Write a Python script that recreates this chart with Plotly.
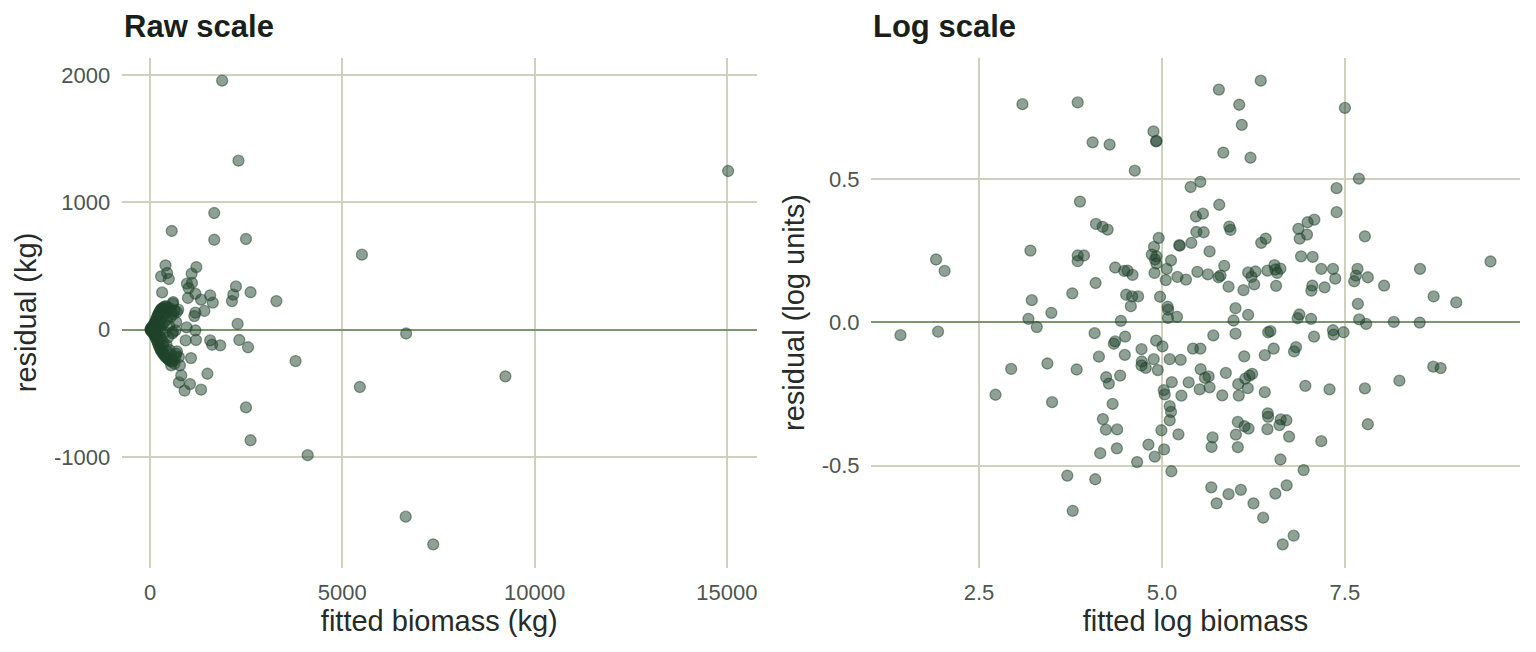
import plotly.graph_objects as go

# ---------------- data: raw scale (kg) ----------------
raw_fitted_outer = [1876, 2300, 15033, 1670, 564, 1670, 2495, 5510, 3286, 2614, 2278, 6660,
                    2321, 2549, 3785, 9241, 5456, 2495, 2614, 4100, 6649, 7365]
raw_resid_outer = [1955, 1327, 1246, 916, 775, 706, 712, 589, 225, 294, 45, -30,
                   -81, -138, -246, -366, -450, -610, -868, -985, -1468, -1685]

raw_fitted_mid = [402, 445, 288, 489, 1205, 1083, 960, 1091, 1004, 314, 1179, 986, 1327, 1563,
                  1632, 1414, 1179, 1152, 602, 733, 698, 2235, 2165, 2130, 952, 1179, 925, 1196,
                  1563, 1615, 1825, 1065, 1493, 1039, 1327, 899, 751, 812, 777, 751, 550, 489,
                  637, 681, 419, 332, 594, 663, 594]
raw_resid_mid = [505, 445, 419, 398, 492, 440, 361, 367, 327, 293, 283, 249, 236, 270,
                 212, 147, 134, 107, 217, 157, 139, 340, 275, 225, 18, -5, -84, -81,
                 -84, -118, -123, -223, -346, -427, -471, -479, -414, -359, -280, -215, -280, -236,
                 -267, -189, -162, -123, -18, -5, 204]

raw_fitted_core = [12, 18, 25, 30, 35, 40, 45, 50, 55, 60, 65, 70, 75, 80, 85, 90, 95, 100, 105,
                   110, 115, 120, 125, 130, 135, 140, 145, 150, 155, 160, 165, 170, 175, 180, 185,
                   190, 195, 200, 205, 210, 215, 220, 225, 230, 235, 240, 245, 250, 255, 260, 265,
                   270, 275, 280, 285, 290, 295, 300, 310, 315, 320, 330, 335, 340, 350, 355, 360,
                   370, 380, 385, 390, 400, 410, 420, 430, 440, 450, 460, 470, 480, 490, 500, 510,
                   520, 530, 540, 550, 560, 570, 580, 600, 620, 640, 660, 680, 700]
raw_resid_core = [3, -5, 8, -2, 12, -10, 5, 18, -15, 0, 22, -20, 10, -8, 30, -25, 15, 40, -35,
                  5, 50, -45, 20, -12, 60, -55, 28, 70, -65, 0, 85, -75, 35, -30, 95,
                  -90, 45, 110, -100, 15, 120, -115, 60, -50, 130, -130, 25, 140, -140, 75, -60,
                  150, -155, 5, 160, -165, 90, -80, 165, -175, 40, 170, -185, 110, -100, 175, -195,
                  60, 180, -205, -20, 130, -215, 185, -120, 80, -225, 175, -60, 150, -235, 30, -160,
                  165, -245, 100, -200, 140, -250, -30, 120, -240, 150, -210, 60, -170]

raw_fitted = raw_fitted_outer + raw_fitted_mid + raw_fitted_core
raw_resid = raw_resid_outer + raw_resid_mid + raw_resid_core

# ---------------- data: log scale ----------------
log_fitted = [
    3.094, 3.849, 4.053, 4.285, 4.884, 4.920, 4.925, 4.629, 5.392, 5.525, 3.880, 4.098, 4.189, 4.258,
    5.465, 5.560, 5.470, 5.570, 4.956, 5.238, 5.242, 5.402, 5.651, 1.914, 2.031, 3.203, 3.849, 3.935,
    3.849, 4.892, 4.861, 4.925, 4.906, 4.925, 5.124, 5.065, 4.898, 4.361, 4.484, 4.530, 4.598, 5.052,
    5.211, 5.328, 5.484, 5.628, 4.094, 3.775, 4.511, 4.593, 4.674, 4.575, 4.974, 3.222, 3.489, 3.176,
    3.290, 4.439, 5.079, 5.085, 5.083, 5.206, 1.428, 1.941, 4.080,
    4.497, 4.361, 4.343, 4.920, 5.007, 5.424, 5.525, 4.721, 4.139, 4.493, 4.888, 5.106, 5.256, 4.725,
    4.721, 4.779, 4.943, 2.940, 3.435, 3.835, 4.238, 4.275, 4.429, 5.529, 5.587, 5.638, 5.134, 5.365,
    5.515, 5.025, 5.038, 5.266, 2.726, 3.499, 4.326, 5.106, 5.124, 5.106, 4.193, 4.234, 4.388, 4.993,
    5.225, 4.816, 4.384, 4.157, 5.029, 4.902, 4.661, 5.129, 3.707, 4.089, 3.781,
    5.778, 6.350, 6.056, 6.091, 7.500, 5.838, 6.210, 7.691, 7.386, 5.783, 5.920, 5.937, 7.386, 7.773,
    6.864, 6.990, 7.082, 6.882, 6.982, 6.356, 6.418, 5.851, 5.774, 5.801, 6.178, 6.278, 6.224, 6.260,
    6.441, 6.537, 6.619, 6.574, 6.550, 6.560, 6.901, 7.059, 7.177, 7.337, 7.368, 7.055, 7.041, 7.222,
    5.910, 6.114, 7.672, 7.650, 7.627, 7.813, 8.035, 8.526, 9.489, 8.712, 9.021, 7.677, 6.005, 5.978,
    6.178, 6.877, 6.854, 7.037, 7.695, 7.790, 8.168, 8.522, 5.702, 6.005, 6.451, 6.482, 7.078, 7.337,
    7.345, 7.481,
    6.124, 6.405, 6.527, 6.832, 6.805, 5.873, 5.651, 5.824, 6.042, 6.138, 6.196, 6.233, 6.173, 6.050,
    6.405, 6.959, 7.290, 7.773, 8.244, 8.707, 8.808, 7.813, 5.692, 5.678, 6.037, 6.128, 6.183, 6.010,
    6.037, 6.446, 6.451, 6.441, 6.623, 6.605, 6.700, 6.737, 7.177, 6.619, 6.936, 5.674, 5.747, 5.910,
    6.078, 6.251, 6.550, 6.704, 6.383, 6.800, 6.650]
log_resid = [
    0.761, 0.767, 0.628, 0.620, 0.666, 0.631, 0.633, 0.529, 0.472, 0.490, 0.421, 0.343, 0.333, 0.323,
    0.369, 0.379, 0.315, 0.314, 0.294, 0.269, 0.267, 0.277, 0.247, 0.219, 0.179, 0.250, 0.233, 0.233,
    0.213, 0.263, 0.236, 0.230, 0.219, 0.205, 0.216, 0.186, 0.172, 0.191, 0.179, 0.180, 0.165, 0.147,
    0.158, 0.149, 0.176, 0.167, 0.137, 0.101, 0.096, 0.090, 0.090, 0.056, 0.089, 0.077, 0.033, 0.012,
    -0.017, 0.005, 0.054, 0.044, 0.015, 0.019, -0.045, -0.033, -0.038,
    -0.050, -0.067, -0.075, -0.064, -0.084, -0.092, -0.092, -0.094, -0.120, -0.114, -0.129, -0.129,
    -0.131, -0.137, -0.151, -0.159, -0.167, -0.163, -0.144, -0.165, -0.192, -0.214, -0.186, -0.164,
    -0.194, -0.189, -0.209, -0.210, -0.234, -0.237, -0.252, -0.256, -0.253, -0.279, -0.285, -0.293,
    -0.313, -0.342, -0.338, -0.375, -0.374, -0.377, -0.391, -0.427, -0.440, -0.457, -0.444, -0.469,
    -0.488, -0.520, -0.535, -0.548, -0.658,
    0.812, 0.843, 0.759, 0.689, 0.748, 0.592, 0.574, 0.501, 0.468, 0.410, 0.334, 0.322, 0.384, 0.300,
    0.326, 0.349, 0.358, 0.292, 0.306, 0.277, 0.292, 0.197, 0.157, 0.163, 0.174, 0.177, 0.158, 0.132,
    0.180, 0.199, 0.187, 0.172, 0.184, 0.127, 0.230, 0.228, 0.186, 0.186, 0.152, 0.128, 0.110, 0.122,
    0.124, 0.112, 0.186, 0.163, 0.143, 0.157, 0.128, 0.186, 0.212, 0.090, 0.069, 0.064, 0.049, 0.006,
    0.026, 0.027, 0.014, 0.012, 0.010, -0.006, 0.001, -0.001, -0.046, -0.040, -0.035, -0.031, -0.050,
    -0.028, -0.043, -0.035,
    -0.119, -0.115, -0.092, -0.087, -0.102, -0.177, -0.227, -0.255, -0.216, -0.197, -0.186, -0.180,
    -0.230, -0.256, -0.244, -0.222, -0.234, -0.231, -0.204, -0.155, -0.160, -0.356, -0.402, -0.435,
    -0.348, -0.363, -0.371, -0.392, -0.436, -0.318, -0.330, -0.373, -0.339, -0.359, -0.342, -0.399,
    -0.415, -0.479, -0.516, -0.576, -0.632, -0.600, -0.585, -0.632, -0.598, -0.569, -0.682, -0.745,
    -0.775]

raw_xticks = [0, 5000, 10000, 15000]
raw_xticklabels = ["0", "5000", "10000", "15000"]
raw_yticks = [-1000, 0, 1000, 2000]
raw_yticklabels = ["-1000", "0", "1000", "2000"]
log_xticks = [2.5, 5.0, 7.5]
log_xticklabels = ["2.5", "5.0", "7.5"]
log_yticks = [-0.5, 0.0, 0.5]
log_yticklabels = ["-0.5", "0.0", "0.5"]

# ---------------- style ----------------
W, H = 1536, 652
PT_COLOR = "rgba(31,67,43,0.5)"
GRID = "#d0d1bc"
ZERO = "#7d9670"
TICK_C = "#4d5550"
TITLE_C = "#262b28"
FONT = "Liberation Sans, Arial, sans-serif"


def padded(vals, f=0.05):
    lo, hi = min(vals), max(vals)
    d = (hi - lo) * f
    return [lo - d, hi + d]


marker = dict(size=11, color=PT_COLOR, line=dict(color=PT_COLOR, width=1.3))

fig = go.Figure()
fig.add_trace(go.Scatter(x=raw_fitted, y=raw_resid, mode="markers", marker=marker,
                         xaxis="x", yaxis="y", showlegend=False, hoverinfo="x+y"))
fig.add_trace(go.Scatter(x=log_fitted, y=log_resid, mode="markers", marker=marker,
                         xaxis="x2", yaxis="y2", showlegend=False, hoverinfo="x+y"))

ybot = 84.5 / H
ytop = 594.5 / H


def xax(dom, rng, tv, tt, title, anchor):
    return dict(domain=dom, range=rng, tickvals=tv, ticktext=tt, anchor=anchor,
                showgrid=True, gridcolor=GRID, gridwidth=1.8, zeroline=False, showline=False,
                ticks="outside", ticklen=5, tickcolor="rgba(0,0,0,0)",
                tickfont=dict(size=22, color=TICK_C, family=FONT),
                title=dict(text=title, font=dict(size=29, color=TITLE_C, family=FONT), standoff=6))


def yax(rng, tv, tt, title, anchor):
    return dict(domain=[ybot, ytop], range=rng, tickvals=tv, ticktext=tt, anchor=anchor,
                showgrid=True, gridcolor=GRID, gridwidth=1.8,
                zeroline=True, zerolinecolor=ZERO, zerolinewidth=2.4, showline=False,
                ticks="outside", ticklen=6, tickcolor="rgba(0,0,0,0)",
                tickfont=dict(size=22, color=TICK_C, family=FONT),
                title=dict(text=title, font=dict(size=29, color=TITLE_C, family=FONT), standoff=8))


fig.update_layout(
    width=W, height=H, margin=dict(l=0, r=0, t=0, b=0),
    paper_bgcolor="white", plot_bgcolor="white",
    font=dict(family=FONT),
    xaxis=xax([121.6 / W, 757 / W], padded(raw_fitted), raw_xticks, raw_xticklabels,
              "fitted biomass (kg)", "y"),
    yaxis=yax(padded(raw_resid), raw_yticks, raw_yticklabels, "residual (kg)", "x"),
    xaxis2=xax([871 / W, 1520 / W], padded(log_fitted), log_xticks, log_xticklabels,
               "fitted log biomass", "y2"),
    yaxis2=yax(padded(log_resid), log_yticks, log_yticklabels, "residual (log units)", "x2"),
    annotations=[
        dict(text="<b>Raw scale</b>", xref="paper", yref="paper", x=122 / W, y=1 - 27 / H,
             xanchor="left", yanchor="middle", showarrow=False,
             font=dict(size=31, color="#1a1f1b", family=FONT)),
        dict(text="<b>Log scale</b>", xref="paper", yref="paper", x=871 / W, y=1 - 27 / H,
             xanchor="left", yanchor="middle", showarrow=False,
             font=dict(size=31, color="#1a1f1b", family=FONT)),
    ],
)

fig.write_html("out.html")
